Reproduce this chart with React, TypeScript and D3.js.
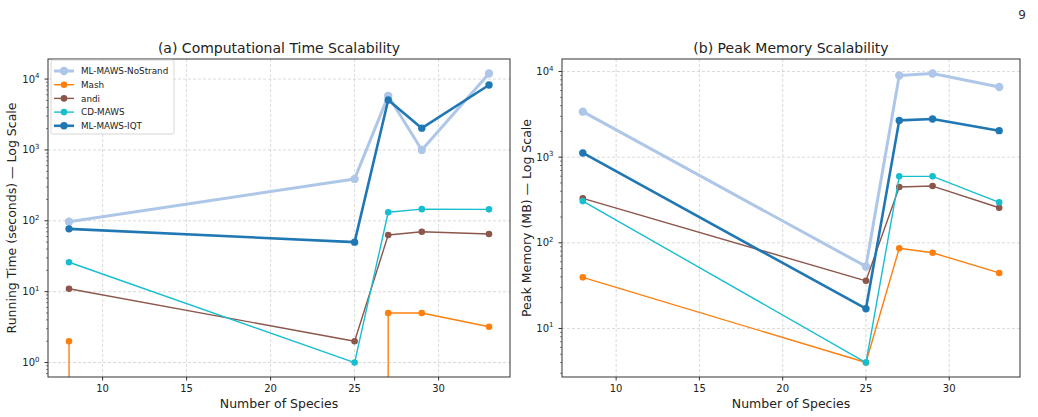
import React from "react";
import * as d3 from "d3";

// species counts (shared x)
const speciesCounts = [8, 25, 27, 29, 33];

const seriesNames = ["ML-MAWS-NoStrand", "Mash", "andi", "CD-MAWS", "ML-MAWS-IQT"];
const seriesColors = ["#aec7e8", "#ff7f0e", "#8c564b", "#17becf", "#1f77b4"];

// running time (seconds); 0 = not measurable (dropped on log axis)
const timeNoStrand = [97, 390, 5800, 1000, 12000];
const timeMash = [2, 0, 5, 5, 3.2];
const timeAndi = [11, 2, 63, 70, 65];
const timeCdMaws = [26, 1, 132, 146, 145];
const timeIqt = [77, 50, 5070, 2030, 8240];

// peak memory (MB)
const memNoStrand = [3400, 53, 9000, 9500, 6600];
const memMash = [39.5, 4, 86.5, 76.5, 44.5];
const memAndi = [330, 36, 448, 460, 257];
const memCdMaws = [307, 4, 597, 597, 297];
const memIqt = [1120, 17, 2690, 2790, 2040];

const xTicks = [10, 15, 20, 25, 30];

const styleFor = (i: number) => {
  if (i === 0) return { lw: 3, r: 4.2 };
  if (i === 4) return { lw: 2.6, r: 3.7 };
  return { lw: 1.4, r: 3.3 };
};

type PanelProps = {
  id: string;
  box: { x0: number; x1: number; y0: number; y1: number };
  series: number[][];
  title: string;
  ylabel: string;
  ylabelOffset: number;
  legend?: boolean;
};

const Panel = ({ id, box, series, title, ylabel, ylabelOffset, legend }: PanelProps) => {
  const xMin = d3.min(speciesCounts)!;
  const xMax = d3.max(speciesCounts)!;
  const xPad = (xMax - xMin) * 0.05;
  const x = d3.scaleLinear().domain([xMin - xPad, xMax + xPad]).range([box.x0, box.x1]);

  const positives = series.flat().filter(v => v > 0);
  const lMin = Math.log10(d3.min(positives)!);
  const lMax = Math.log10(d3.max(positives)!);
  const lPad = (lMax - lMin) * 0.05;
  const y = d3.scaleLog().domain([10 ** (lMin - lPad), 10 ** (lMax + lPad)]).range([box.y1, box.y0]);

  const [d0, d1] = y.domain();
  const majors: number[] = [];
  const minors: number[] = [];
  for (let k = Math.floor(Math.log10(d0)); k <= Math.ceil(Math.log10(d1)); k++) {
    const v = 10 ** k;
    if (v >= d0 && v <= d1) majors.push(k);
    for (let m = 2; m <= 9; m++) {
      const mv = m * v;
      if (mv >= d0 && mv <= d1) minors.push(mv);
    }
  }

  const py = (v: number) => (v > 0 ? y(v) : box.y1 + 100000);
  const line = d3.line<number>().x((_, i) => x(speciesCounts[i])).y(v => py(v));

  const cx = (box.x0 + box.x1) / 2;
  const cy = (box.y0 + box.y1) / 2;

  return (
    <g>
      <defs>
        <clipPath id={`clip-${id}`}>
          <rect x={box.x0} y={box.y0} width={box.x1 - box.x0} height={box.y1 - box.y0} />
        </clipPath>
      </defs>
      {/* grid */}
      {xTicks.map(t => (
        <line key={`gx${t}`} x1={x(t)} x2={x(t)} y1={box.y0} y2={box.y1}
          stroke="#b0b0b0" strokeOpacity={0.6} strokeWidth={0.8} strokeDasharray="3,2" />
      ))}
      {majors.map(k => (
        <line key={`gy${k}`} x1={box.x0} x2={box.x1} y1={y(10 ** k)} y2={y(10 ** k)}
          stroke="#b0b0b0" strokeOpacity={0.6} strokeWidth={0.8} strokeDasharray="3,2" />
      ))}
      {/* series */}
      <g clipPath={`url(#clip-${id})`}>
        {series.map((vals, i) => {
          const s = styleFor(i);
          return (
            <g key={i}>
              <path d={line(vals)!} fill="none" stroke={seriesColors[i]} strokeWidth={s.lw}
                strokeLinejoin="round" />
              {vals.map((v, j) => v > 0 ? (
                <circle key={j} cx={x(speciesCounts[j])} cy={y(v)} r={s.r} fill={seriesColors[i]} />
              ) : null)}
            </g>
          );
        })}
      </g>
      {/* spines */}
      <rect x={box.x0} y={box.y0} width={box.x1 - box.x0} height={box.y1 - box.y0}
        fill="none" stroke="#333" strokeWidth={1} />
      {/* x ticks */}
      {xTicks.map(t => (
        <g key={`xt${t}`}>
          <line x1={x(t)} x2={x(t)} y1={box.y1} y2={box.y1 + 3.5} stroke="#333" />
          <text x={x(t)} y={box.y1 + 15} textAnchor="middle" fontSize={10} fill="#222">{t}</text>
        </g>
      ))}
      {/* y ticks */}
      {minors.map(v => (
        <line key={`mn${v}`} x1={box.x0 - 2} x2={box.x0} y1={y(v)} y2={y(v)} stroke="#333" strokeWidth={0.6} />
      ))}
      {majors.map(k => (
        <g key={`yt${k}`}>
          <line x1={box.x0 - 3.5} x2={box.x0} y1={y(10 ** k)} y2={y(10 ** k)} stroke="#333" />
          <text x={box.x0 - 13} y={y(10 ** k) + 3.5} textAnchor="end" fontSize={10} fill="#222">10</text>
          <text x={box.x0 - 13} y={y(10 ** k) - 1} fontSize={7} fill="#222">{k}</text>
        </g>
      ))}
      {/* labels */}
      <text x={cx} y={box.y0 - 6} textAnchor="middle" fontSize={14} fill="#222">{title}</text>
      <text x={cx} y={box.y1 + 31} textAnchor="middle" fontSize={12.5} fill="#222">Number of Species</text>
      <text transform={`translate(${box.x0 - ylabelOffset},${cy}) rotate(-90)`} textAnchor="middle"
        fontSize={12.5} fill="#222">{ylabel}</text>
      {legend && (
        <g transform={`translate(${box.x0 + 3},${box.y0 + 1})`}>
          <rect x={0} y={0} width={123} height={74} rx={2} fill="white" fillOpacity={0.85}
            stroke="#ccc" strokeWidth={0.8} />
          {seriesNames.map((n, i) => {
            const s = styleFor(i);
            const ly = 11 + i * 13.7;
            return (
              <g key={n}>
                <line x1={3} x2={23} y1={ly} y2={ly} stroke={seriesColors[i]} strokeWidth={s.lw} />
                <circle cx={13} cy={ly} r={s.r} fill={seriesColors[i]} />
                <text x={30} y={ly + 3.2} fontSize={8.8} fill="#222">{n}</text>
              </g>
            );
          })}
        </g>
      )}
    </g>
  );
};

export default function App() {
  return (
    <svg width={1038} height={417} style={{ position: "absolute", left: 0, top: 0, fontFamily: "DejaVu Sans, sans-serif", background: "white" }}>
      <text x={1026} y={19} textAnchor="end" fontSize={12} fill="#333">9</text>
      <Panel id="a" box={{ x0: 48, x1: 510, y0: 59, y1: 377 }}
        series={[timeNoStrand, timeMash, timeAndi, timeCdMaws, timeIqt]}
        title="(a) Computational Time Scalability" ylabel="Running Time (seconds) — Log Scale"
        ylabelOffset={32} legend />
      <Panel id="b" box={{ x0: 562, x1: 1020, y0: 59, y1: 377 }}
        series={[memNoStrand, memMash, memAndi, memCdMaws, memIqt]}
        title="(b) Peak Memory Scalability" ylabel="Peak Memory (MB) — Log Scale"
        ylabelOffset={31} />
    </svg>
  );
}
